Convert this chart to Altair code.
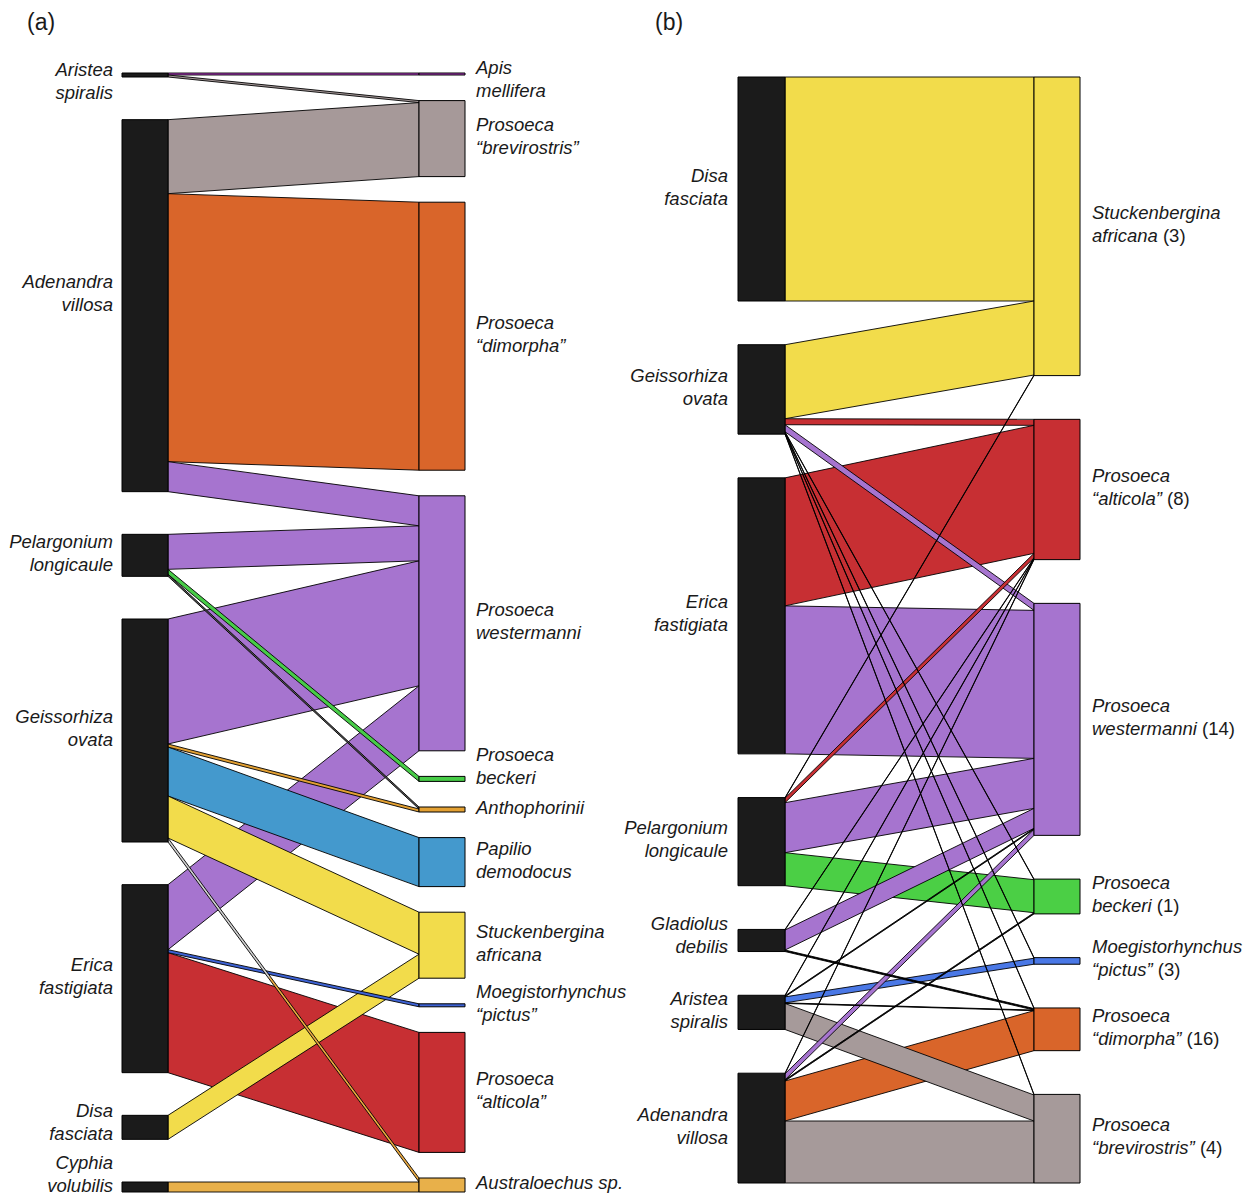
import altair as alt
import pandas as pd

FONT = "Liberation Sans"
FS = 18.5
LH = 23

# ---------------- Panel (a) data ----------------
a_plants = ["Aristea spiralis", "Adenandra villosa", "Pelargonium longicaule", "Geissorhiza ovata",
            "Erica fastigiata", "Disa fasciata", "Cyphia volubilis"]
a_plant_labels = [["Aristea", "spiralis"], ["Adenandra", "villosa"], ["Pelargonium", "longicaule"],
                  ["Geissorhiza", "ovata"], ["Erica", "fastigiata"], ["Disa", "fasciata"], ["Cyphia", "volubilis"]]
a_pollinators = ["Apis mellifera", "Prosoeca “brevirostris”", "Prosoeca “dimorpha”", "Prosoeca westermanni",
                 "Prosoeca beckeri", "Anthophorinii", "Papilio demodocus", "Stuckenbergina africana",
                 "Moegistorhynchus “pictus”", "Prosoeca “alticola”", "Australoechus sp."]
a_pollinator_labels = [["Apis", "mellifera"], ["Prosoeca", "“brevirostris”"], ["Prosoeca", "“dimorpha”"],
                       ["Prosoeca", "westermanni"], ["Prosoeca", "beckeri"], ["Anthophorinii"],
                       ["Papilio", "demodocus"], ["Stuckenbergina", "africana"], ["Moegistorhynchus", "“pictus”"],
                       ["Prosoeca", "“alticola”"], ["Australoechus sp."]]
a_src = ["Aristea spiralis", "Aristea spiralis",
         "Adenandra villosa", "Adenandra villosa", "Adenandra villosa",
         "Pelargonium longicaule", "Pelargonium longicaule", "Pelargonium longicaule",
         "Geissorhiza ovata", "Geissorhiza ovata", "Geissorhiza ovata", "Geissorhiza ovata", "Geissorhiza ovata",
         "Erica fastigiata", "Erica fastigiata", "Erica fastigiata",
         "Disa fasciata", "Cyphia volubilis"]
a_dst = ["Apis mellifera", "Prosoeca “brevirostris”",
         "Prosoeca “brevirostris”", "Prosoeca “dimorpha”", "Prosoeca westermanni",
         "Prosoeca westermanni", "Prosoeca beckeri", "Anthophorinii",
         "Prosoeca westermanni", "Anthophorinii", "Papilio demodocus", "Stuckenbergina africana", "Australoechus sp.",
         "Prosoeca westermanni", "Moegistorhynchus “pictus”", "Prosoeca “alticola”",
         "Stuckenbergina africana", "Australoechus sp."]
a_w = [2, 2, 74, 268, 30, 35, 5, 2, 125, 3, 49, 42, 4, 65, 3, 120, 24, 10]

# ---------------- Panel (b) data ----------------
b_plants = ["Disa fasciata", "Geissorhiza ovata", "Erica fastigiata", "Pelargonium longicaule",
            "Gladiolus debilis", "Aristea spiralis", "Adenandra villosa"]
b_plant_labels = [["Disa", "fasciata"], ["Geissorhiza", "ovata"], ["Erica", "fastigiata"],
                  ["Pelargonium", "longicaule"], ["Gladiolus", "debilis"], ["Aristea", "spiralis"],
                  ["Adenandra", "villosa"]]
b_pollinators = ["Stuckenbergina africana", "Prosoeca “alticola”", "Prosoeca westermanni", "Prosoeca beckeri",
                 "Moegistorhynchus “pictus”", "Prosoeca “dimorpha”", "Prosoeca “brevirostris”"]
b_pollinator_labels = [["Stuckenbergina", "africana"], ["Prosoeca", "“alticola”"], ["Prosoeca", "westermanni"],
                       ["Prosoeca", "beckeri"], ["Moegistorhynchus", "“pictus”"], ["Prosoeca", "“dimorpha”"],
                       ["Prosoeca", "“brevirostris”"]]
b_counts = [3, 8, 14, 1, 3, 16, 4]
b_src = ["Disa fasciata",
         "Geissorhiza ovata", "Geissorhiza ovata", "Geissorhiza ovata", "Geissorhiza ovata",
         "Geissorhiza ovata", "Geissorhiza ovata", "Geissorhiza ovata",
         "Erica fastigiata", "Erica fastigiata",
         "Pelargonium longicaule", "Pelargonium longicaule", "Pelargonium longicaule", "Pelargonium longicaule",
         "Gladiolus debilis", "Gladiolus debilis", "Gladiolus debilis",
         "Aristea spiralis", "Aristea spiralis", "Aristea spiralis", "Aristea spiralis", "Aristea spiralis",
         "Adenandra villosa", "Adenandra villosa", "Adenandra villosa", "Adenandra villosa", "Adenandra villosa"]
b_dst = ["Stuckenbergina africana",
         "Stuckenbergina africana", "Prosoeca “alticola”", "Prosoeca westermanni", "Prosoeca beckeri",
         "Moegistorhynchus “pictus”", "Prosoeca “dimorpha”", "Prosoeca “brevirostris”",
         "Prosoeca “alticola”", "Prosoeca westermanni",
         "Stuckenbergina africana", "Prosoeca “alticola”", "Prosoeca westermanni", "Prosoeca beckeri",
         "Prosoeca “alticola”", "Prosoeca westermanni", "Prosoeca “dimorpha”",
         "Prosoeca “alticola”", "Prosoeca westermanni", "Moegistorhynchus “pictus”", "Prosoeca “dimorpha”",
         "Prosoeca “brevirostris”",
         "Prosoeca “alticola”", "Prosoeca westermanni", "Prosoeca beckeri", "Prosoeca “dimorpha”",
         "Prosoeca “brevirostris”"]
b_w = [224,
       74, 6, 7, 0.6, 0.6, 0.6, 0.6,
       128, 148,
       0.6, 4.5, 50, 33,
       0.6, 20, 1.5,
       0.6, 1.0, 6, 0.6, 26,
       0.6, 6, 1.2, 40, 62]

# ---------------- styles ----------------
PLANT_COLOR = "#1b1b1b"
a_colors = {"Apis mellifera": "#b23cc4", "Prosoeca “brevirostris”": "#a69999",
            "Prosoeca “dimorpha”": "#d9652a", "Prosoeca westermanni": "#a674cf",
            "Prosoeca beckeri": "#47cc47", "Anthophorinii": "#e3a032", "Papilio demodocus": "#4499cd",
            "Stuckenbergina africana": "#f2dc4b", "Moegistorhynchus “pictus”": "#3d62d4",
            "Prosoeca “alticola”": "#c72f33", "Australoechus sp.": "#e8b04a"}
b_colors = {"Stuckenbergina africana": "#f2dc4b", "Prosoeca “alticola”": "#c72f33",
            "Prosoeca westermanni": "#a674cf", "Prosoeca beckeri": "#4bcf45",
            "Moegistorhynchus “pictus”": "#4a78e6", "Prosoeca “dimorpha”": "#d9652a",
            "Prosoeca “brevirostris”": "#a69a9a"}
a_overrides = {("Pelargonium longicaule", "Anthophorinii"): "#555555",
               ("Geissorhiza ovata", "Australoechus sp."): "gradient"}
THIN_COLOR = "#000000"   # very weak links are drawn as plain black lines in (b)

# Arial / Liberation Sans advance widths (1/1000 em)
CW = dict(zip("abcdefghijklmnopqrstuvwxyz",
              [556, 556, 500, 556, 556, 278, 556, 556, 222, 222, 500, 222, 833, 556, 556, 556, 556, 333,
               500, 278, 556, 500, 722, 500, 500, 500]))
CW.update({" ": 278, "“": 333, "”": 333, "(": 333, ")": 333, ".": 278})


def text_width(s, fs=FS):
    return sum(CW.get(c, 600) for c in s) / 1000.0 * fs


def build(panel, plants, plabels, polls, rlabels, src, dst, w, xl, xr, top, bottom, pcolors,
          overrides, lx, rx, nudges, counts=None, thin=None):
    n = len(w)
    ltot = {p: 0.0 for p in plants}
    rtot = {p: 0.0 for p in polls}
    for s, d, v in zip(src, dst, w):
        ltot[s] += v
        rtot[d] += v
    total = sum(w)
    gl = (bottom - top - total) / (len(plants) - 1)
    gr = (bottom - top - total) / (len(polls) - 1)
    ltop, rtop = {}, {}
    y = top
    for p in plants:
        ltop[p] = y
        y += ltot[p] + gl
    y = top
    for p in polls:
        rtop[p] = y
        y += rtot[p] + gr
    lpos, rpos = {}, {}
    cur = dict(ltop)
    for i in sorted(range(n), key=lambda i: (plants.index(src[i]), polls.index(dst[i]))):
        lpos[i] = (cur[src[i]], cur[src[i]] + w[i])
        cur[src[i]] += w[i]
    cur = dict(rtop)
    for i in sorted(range(n), key=lambda i: (polls.index(dst[i]), plants.index(src[i]))):
        rpos[i] = (cur[dst[i]], cur[dst[i]] + w[i])
        cur[dst[i]] += w[i]

    links = []
    for rank, i in enumerate(sorted(range(n), key=lambda i: -w[i])):
        col = overrides.get((src[i], dst[i]), pcolors[dst[i]])
        if thin is not None and w[i] < 2:
            col = thin
        grad = 1 if col == "gradient" else 0
        lid = f"{panel}{rank:03d}"
        links.append(dict(lid=lid, x=xl[1], y=lpos[i][0], y2=lpos[i][1], fill=col, grad=grad))
        links.append(dict(lid=lid, x=xr[0], y=rpos[i][0], y2=rpos[i][1], fill=col, grad=grad))

    nodes = []
    for p in plants:
        nodes.append(dict(x=xl[0], x2=xl[1], y=ltop[p], y2=ltop[p] + ltot[p], fill=PLANT_COLOR))
    for p in polls:
        nodes.append(dict(x=xr[0], x2=xr[1], y=rtop[p], y2=rtop[p] + rtot[p], fill=pcolors[p]))

    texts_r, texts_l, texts_n = [], [], []
    for p, lines in zip(plants, plabels):
        c = ltop[p] + ltot[p] / 2 - 2 + nudges.get(p, 0)
        for k, t in enumerate(lines):
            texts_r.append(dict(x=lx, y=c + (k - (len(lines) - 1) / 2) * LH, text=t))
    for j, (p, lines) in enumerate(zip(polls, rlabels)):
        c = rtop[p] + rtot[p] / 2 - 2 + nudges.get(p, 0)
        for k, t in enumerate(lines):
            yy = c + (k - (len(lines) - 1) / 2) * LH
            texts_l.append(dict(x=rx, y=yy, text=t))
            if counts is not None and k == len(lines) - 1:
                texts_n.append(dict(x=rx + text_width(t + " "), y=yy, text=f"({counts[j]})"))
    return links, nodes, texts_r, texts_l, texts_n


la, na, tra, tla, tna = build("a", a_plants, a_plant_labels, a_pollinators, a_pollinator_labels,
                              a_src, a_dst, a_w, (122, 168), (419, 465), 73, 1192, a_colors, a_overrides,
                              113, 476,
                              {"Aristea spiralis": 8, "Adenandra villosa": -10, "Cyphia volubilis": -11,
                               "Disa fasciata": -3, "Apis mellifera": 7, "Prosoeca beckeri": -10})
lb, nb, trb, tlb, tnb = build("b", b_plants, b_plant_labels, b_pollinators, b_pollinator_labels,
                              b_src, b_dst, b_w, (738, 785), (1034, 1080), 77, 1183, b_colors, {},
                              728, 1092, {"Gladiolus debilis": -3}, counts=b_counts, thin=THIN_COLOR)

links_df = pd.DataFrame(la + lb)
nodes_df = pd.DataFrame(na + nb)
tr_df = pd.DataFrame(tra + trb)
tl_df = pd.DataFrame(tla + tlb)
tn_df = pd.DataFrame(tna + tnb + [dict(x=27, y=23, text="(a)"), dict(x=655, y=23, text="(b)")])
tn_df["size"] = [FS] * (len(tn_df) - 2) + [23, 23]

xs = alt.Scale(domain=[8, 1246], nice=False, zero=False)
ys = alt.Scale(domain=[8, 1194], nice=False, zero=False, reverse=True)

X = alt.X("x:Q", scale=xs, axis=None)
Y = alt.Y("y:Q", scale=ys, axis=None)

link_layer = alt.Chart(links_df).transform_filter("datum.grad == 0").mark_area(
    stroke="black", strokeWidth=0.9, interpolate="linear"
).encode(x=X, y=Y, y2="y2:Q", fill=alt.Fill("fill:N", scale=None), detail="lid:N")

grad_layer = alt.Chart(links_df).transform_filter("datum.grad == 1").mark_area(
    stroke="black", strokeWidth=0.9, interpolate="linear",
    fill=alt.Gradient(gradient="linear", x1=0, y1=0, x2=1, y2=1,
                      stops=[alt.GradientStop(color="#cfcfcf", offset=0),
                             alt.GradientStop(color="#cfcfcf", offset=0.4),
                             alt.GradientStop(color="#e8a840", offset=0.41),
                             alt.GradientStop(color="#e8a840", offset=1)])
).encode(x=X, y=Y, y2="y2:Q", detail="lid:N")

node_layer = alt.Chart(nodes_df).mark_rect(stroke="black", strokeWidth=1).encode(
    x=X, x2="x2:Q", y=Y, y2="y2:Q", fill=alt.Fill("fill:N", scale=None)
)

text_right = alt.Chart(tr_df).mark_text(align="right", baseline="middle", font=FONT, fontSize=FS,
                                        fontStyle="italic", color="#1a1a1a").encode(x=X, y=Y, text="text:N")
text_left = alt.Chart(tl_df).mark_text(align="left", baseline="middle", font=FONT, fontSize=FS,
                                       fontStyle="italic", color="#1a1a1a").encode(x=X, y=Y, text="text:N")
text_norm = alt.Chart(tn_df).mark_text(align="left", baseline="middle", font=FONT,
                                       color="#1a1a1a").encode(
    x=X, y=Y, text="text:N", size=alt.Size("size:Q", scale=None, legend=None))

chart = alt.layer(link_layer, grad_layer, node_layer, text_right, text_left, text_norm).properties(
    width=1238, height=1186, autosize=alt.AutoSizeParams(type="none"), padding=0
).configure_view(stroke=None)

chart.save("out.html", embed_options={"renderer": "svg", "actions": False})
